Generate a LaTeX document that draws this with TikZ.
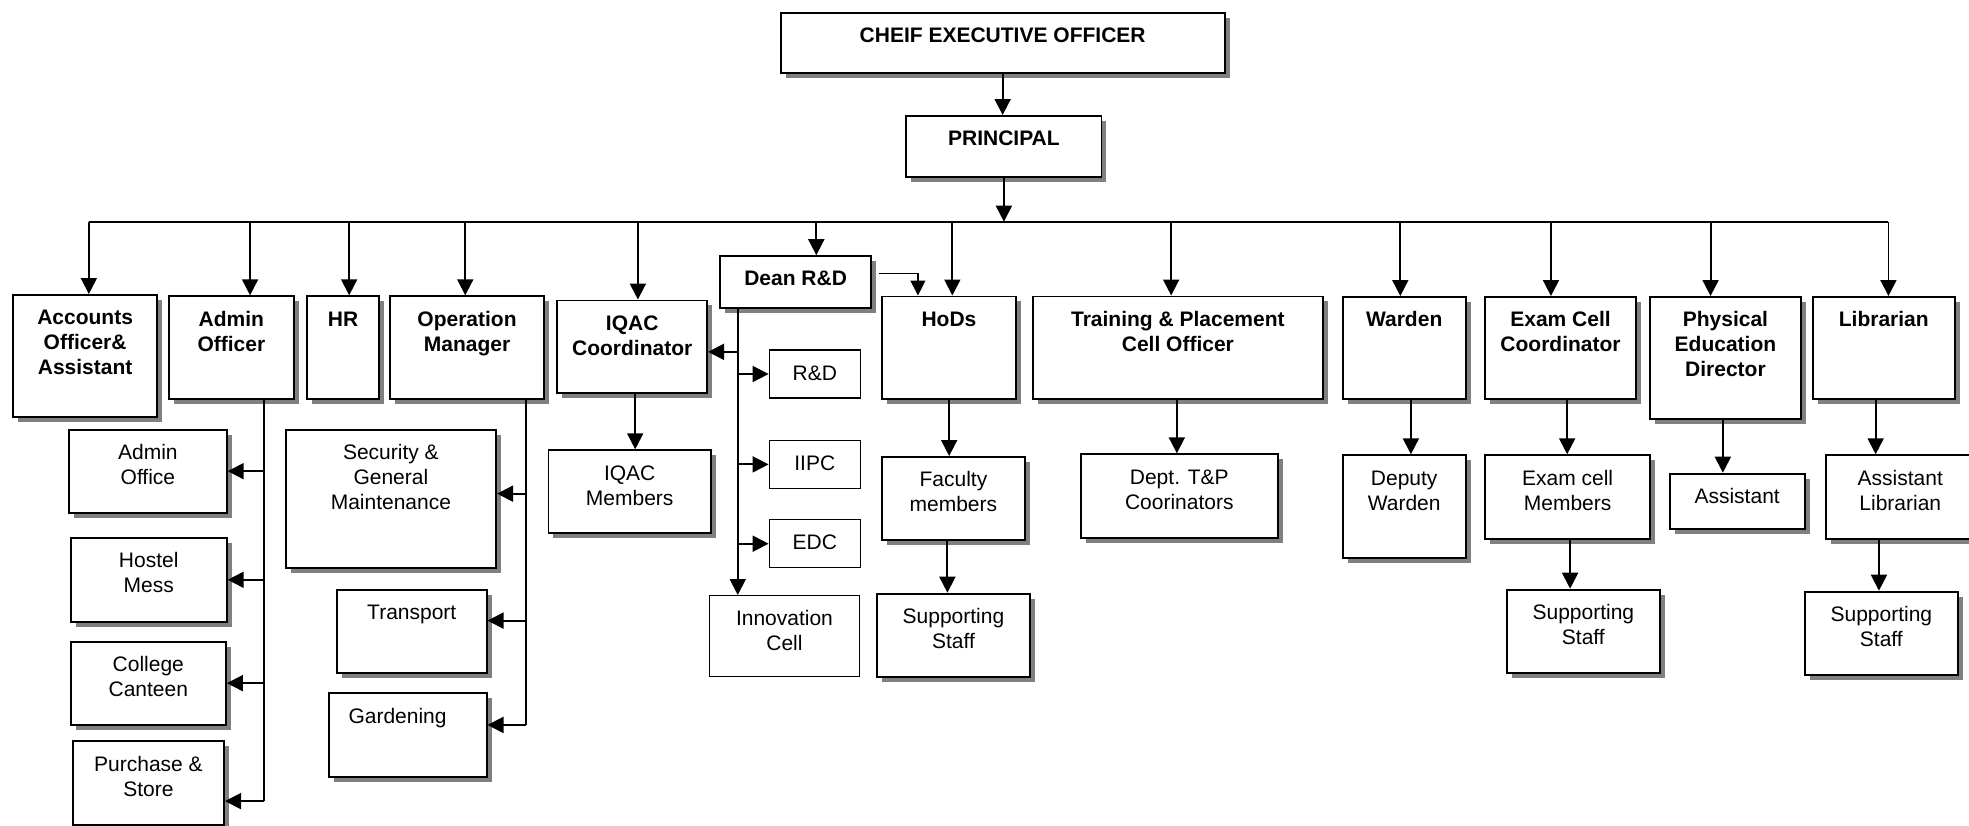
\documentclass[tikz,border=0pt]{standalone}
\usepackage{fontspec}
\setmainfont{Liberation Sans}
\usetikzlibrary{arrows.meta,shadows,calc}
\definecolor{shgray}{RGB}{128,128,128}
\tikzset{
  box/.style={draw, line width=1.9pt, fill=white, inner sep=0pt, anchor=north west,
     drop shadow={shadow xshift=5pt, shadow yshift=-5pt, fill=shgray, opacity=1}},
  pbox/.style={draw, line width=1.4pt, fill=white, inner sep=0pt, anchor=north west},
  txt/.style={anchor=north, inner sep=0pt, align=center, font=\fontsize{21}{25}\selectfont},
  btxt/.style={txt, font=\fontsize{21}{25}\selectfont\bfseries},
  arr/.style={line width=1.9pt, -{Triangle[length=16pt,width=16pt]}},
  arrthin/.style={line width=1.1pt, -{Triangle[length=15pt,width=15pt]}},
  ln/.style={line width=1.9pt},
}
\newcommand\mkbox[8]{%
  \node[#1, minimum width=#5pt, minimum height=#6pt] (#2) at (#3,#4) {};
  \node[#7] (#2-t) at ([yshift=-13pt]#2.north) {\strut #8};}
\newcommand\drop[2]{\coordinate (#1d) at ($(#1.north)+(#2,0)$); \draw[arr] (#1d |- bus) -- (#1d);}
\newcommand\down[3]{\coordinate (#1#2) at ($(#1.south)+(#3,0)$); \draw[arr] (#1#2) -- (#1#2 |- #2.north);}
\begin{document}
\begin{tikzpicture}[x=1pt,y=-1pt]
\useasboundingbox (0,0) rectangle (1969,825);
\clip (0,0) rectangle (1969,825);
% top levels
\mkbox{box}{ceo}{779.6}{11.7}{444.2}{60.6}{btxt}{CHEIF EXECUTIVE OFFICER}
\mkbox{box}{prin}{905.4}{115}{195.1}{60.7}{btxt}{PRINCIPAL}
% second level
\mkbox{box}{acc}{12.1}{294}{144.2}{122}{btxt}{Accounts\\Officer\&\\Assistant}
\mkbox{box}{adm}{167.9}{295.3}{125}{102.7}{btxt}{Admin\\Officer}
\mkbox{box}{hr}{306.3}{295.3}{71.8}{102.7}{btxt}{HR}
\mkbox{box}{opm}{389.3}{295.3}{153.6}{102.7}{btxt}{Operation\\Manager}
\mkbox{box}{iqac}{556.4}{299.5}{149.7}{92.8}{btxt}{IQAC\\Coordinator}
\mkbox{box}{dean}{719.3}{255.2}{150.7}{51.8}{btxt}{Dean R\&D}
\mkbox{box}{hod}{881}{295.5}{134}{102.5}{btxt}{HoDs}
\mkbox{box}{tp}{1031.8}{295.5}{290.2}{102.2}{btxt}{Training \& Placement\\Cell Officer}
\mkbox{box}{war}{1341.8}{296}{122.9}{101.7}{btxt}{Warden}
\mkbox{box}{exc}{1484.3}{296}{150.6}{101.7}{btxt}{Exam Cell\\Coordinator}
\mkbox{box}{ped}{1649}{296}{151}{121.7}{btxt}{Physical\\Education\\Director}
\mkbox{box}{lib}{1812}{296}{141.6}{101.7}{btxt}{Librarian}
% third level
\mkbox{box}{aof}{68.1}{428.7}{157.7}{83}{txt}{Admin\\Office}
\mkbox{box}{hm}{69.7}{537}{156.1}{83.7}{txt}{Hostel\\Mess}
\mkbox{box}{cc}{69.7}{640.7}{155.3}{83}{txt}{College\\Canteen}
\mkbox{box}{ps}{71.9}{740.3}{151.2}{83.7}{txt}{Purchase \&\\Store}
\mkbox{box}{sec}{284.7}{428.7}{210.5}{138}{txt}{Security \&\\General\\Maintenance}
\mkbox{box}{trn}{336}{589}{149.6}{83.3}{txt}{Transport}
\mkbox{box}{gar}{327.6}{692.3}{158}{83.4}{txt,xshift=-10pt}{Gardening}
\mkbox{box}{iqm}{547.5}{449.3}{162.5}{82.7}{txt}{IQAC\\Members}
\mkbox{pbox}{rd}{768.6}{349.3}{91}{48}{txt}{R\&D}
\mkbox{pbox}{iipc}{768.6}{439.7}{91}{48}{txt}{IIPC}
\mkbox{pbox}{edc}{768.6}{519}{91}{48}{txt}{EDC}
\mkbox{pbox}{inn}{708.6}{595}{150.3}{81}{txt}{Innovation\\Cell}
\mkbox{box}{fac}{881}{456}{142.9}{83.3}{txt}{Faculty\\members}
\mkbox{box}{hss}{875.7}{592.7}{153.6}{83}{txt}{Supporting\\Staff}
\mkbox{box}{dtp}{1079.8}{453.3}{197.1}{84}{txt}{Dept. T\&P\\Coorinators}
\mkbox{box}{dw}{1341.8}{454.3}{122.9}{102.4}{txt}{Deputy\\Warden}
\mkbox{box}{ecm}{1484.3}{454.3}{164.7}{83.4}{txt}{Exam cell\\Members}
\mkbox{box}{ess}{1505.6}{588.7}{153.6}{83.6}{txt}{Supporting\\Staff}
\mkbox{box}{pas}{1668.6}{472.7}{135.2}{55.6}{txt}{Assistant}
\mkbox{box}{al}{1824.7}{454.3}{149.3}{83.4}{txt}{Assistant\\Librarian}
\mkbox{box}{lss}{1803.8}{590.7}{153.2}{83.3}{txt}{Supporting\\Staff}
% connectors: top
\coordinate (bus) at (0,221.7);
\draw[arr] (ceo.south) -- (ceo.south |- prin.north);
\draw[arr] (prin.south) -- (prin.south |- bus);
\drop{acc}{3.7}
\drop{adm}{18.7}
\drop{hr}{6}
\drop{opm}{-1.8}
\drop{iqac}{5.7}
\drop{dean}{20.7}
\drop{hod}{3.4}
\drop{tp}{-6.7}
\drop{war}{-3.9}
\drop{exc}{-9.6}
\drop{ped}{-14.9}
\drop{lib}{4.7}
\draw[ln] (accd |- bus) -- (libd |- bus);
% simple downward links
\down{iqac}{iqm}{3}
\down{hod}{fac}{0.2}
\down{fac}{hss}{-6}
\down{tp}{dtp}{-1}
\down{war}{dw}{6.7}
\down{exc}{ecm}{6.6}
\down{ecm}{ess}{2.5}
\down{ped}{pas}{-2.6}
\down{lib}{al}{-8.1}
\down{al}{lss}{-21.35}
% admin officer branch
\coordinate (admv) at ($(adm.south)+(33,0)$);
\coordinate (psa) at ($(ps.east)+(0,18)$);
\draw[ln] (admv) -- (admv |- psa);
\draw[arr] (admv |- aof.east) -- (aof.east);
\draw[arr] (admv |- hm.east) -- (hm.east);
\draw[arr] (admv |- cc.east) -- (cc.east);
\draw[arr] (admv |- psa) -- (psa);
% operation manager branch
\coordinate (opmv) at ($(opm.south)+(59,0)$);
\coordinate (seca) at ($(sec.east)+(0,-5)$);
\coordinate (trna) at ($(trn.east)+(0,-11)$);
\coordinate (gara) at ($(gar.east)+(0,-10)$);
\draw[ln] (opmv) -- (opmv |- gara);
\draw[arr] (opmv |- seca) -- (seca);
\draw[arr] (opmv |- trna) -- (trna);
\draw[arr] (opmv |- gara) -- (gara);
% dean branch
\coordinate (deanv) at ($(dean.south)+(-57.85,0)$);
\coordinate (iqaca) at ($(iqac.east)+(0,5)$);
\draw[arr] (deanv) -- (deanv |- inn.north);
\draw[arr] (deanv |- iqaca) -- (iqaca);
\draw[arr] (deanv |- rd.west) -- (rd.west);
\draw[arr] (deanv |- iipc.west) -- (iipc.west);
\draw[arr] (deanv |- edc.west) -- (edc.west);
\draw[arrthin] ($(dean.east)+(7,-8.4)$) -| ($(hod.north)+(-31,0)$);
\end{tikzpicture}
\end{document}
